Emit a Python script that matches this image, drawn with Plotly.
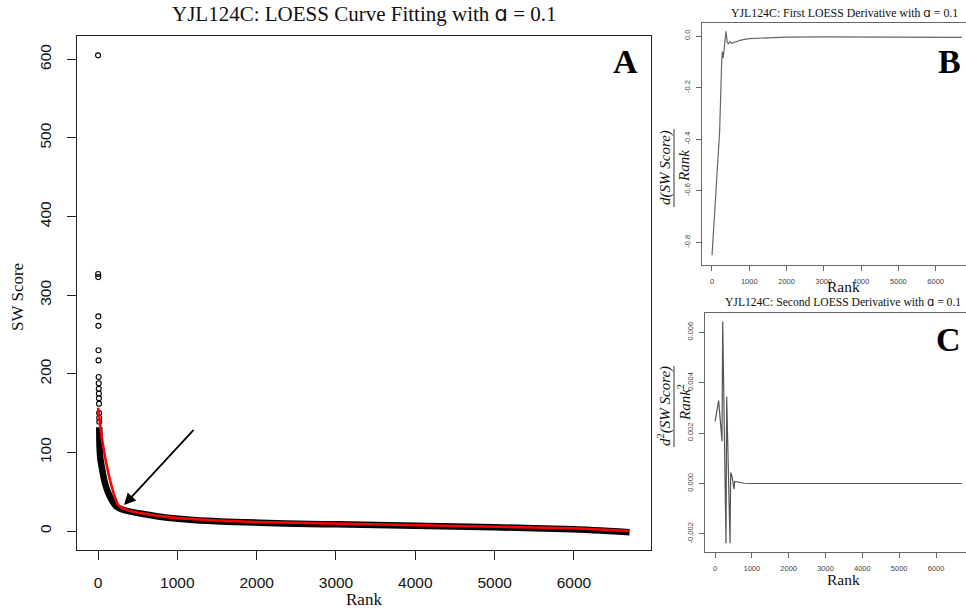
import plotly.graph_objects as go

W, H = 966, 610

# ---------------- Panel A data ----------------
outlier_rank = [1, 2, 3, 4, 5, 6, 7, 8, 9, 10, 11, 12, 13, 14, 15, 16]
outlier_score = [605, 327, 323, 273, 261, 230, 217, 196, 188, 181, 175, 169, 162, 150, 144, 139]

band_rank = [16, 20, 30, 46, 88, 151, 235, 361, 571, 782, 1201, 1622, 2042, 2672, 3000, 4000, 5000, 6000, 6700]
band_score = [132, 107, 92, 82, 60.6, 43.6, 31, 25.8, 21.6, 18.2, 14, 11.8, 10.6, 8.9, 8.6, 6.8, 4.8, 2.2, -1.5]

loess_rank = [1, 50, 100, 150, 200, 250, 300, 360, 400, 500, 700, 1000, 1500, 2000, 3000, 4000, 5000, 6000, 6700]
loess_score = [157, 117, 88, 65, 47, 33.5, 29.5, 26.7, 25.5, 23.5, 20, 16.5, 13.5, 11.5, 9.5, 7.5, 5.5, 3.5, 0]

# ---------------- Panel B data ----------------
d1_rank = [1, 100, 205, 260, 277, 300, 320, 375, 410, 440, 480, 520, 600, 800, 1000, 1500,
           2000, 3000, 4000, 5000, 6000, 6700]
d1_value = [-0.85, -0.60, -0.37, -0.10, -0.06, -0.085, -0.06, 0.018, -0.025, -0.03, -0.022,
            -0.028, -0.024, -0.015, -0.010, -0.006, -0.004, -0.003, -0.003, -0.003, -0.004, -0.005]

# ---------------- Panel C data ----------------
d2_rank = [1, 100, 190, 209, 299, 317, 408, 426, 462, 517, 535, 600, 670, 800, 1000, 2000,
           3000, 4000, 5000, 6000, 6700]
d2_value = [0.00246, 0.00329, 0.00167, 0.00643, -0.00237, 0.00345, -0.00237, 0.00044, 0.00028,
            -0.00022, 0.00008, 0.00006, 0.00004, 0.00001, 0.0, 0.0, 0.0, 0.0, 0.0, 0.0, 0.0]

# ---------------- ticks ----------------
rank_ticks = [0, 1000, 2000, 3000, 4000, 5000, 6000]
score_ticks = [0, 100, 200, 300, 400, 500, 600]
d1_ticks = [0.0, -0.2, -0.4, -0.6, -0.8]
d1_tick_text = ["0.0", "-0.2", "-0.4", "-0.6", "-0.8"]
d2_ticks = [0.006, 0.004, 0.002, 0.0, -0.002]
d2_tick_text = ["0.006", "0.004", "0.002", "0.000", "-0.002"]

SERIF = "Liberation Serif"
SANS = "Liberation Sans, Arial, sans-serif"
ALPHA = "<span style=\"font-family:'DejaVu Sans'\">ɑ</span>"


def px(x):
    return x / W


def py(y):
    return 1 - y / H


fig = go.Figure()

# Panel A
fig.add_trace(go.Scatter(x=band_rank, y=band_score, mode="lines",
                         line=dict(color="black", width=6.5, shape="spline", smoothing=0.5),
                         xaxis="x", yaxis="y", showlegend=False, hoverinfo="skip"))
fig.add_trace(go.Scatter(x=outlier_rank, y=outlier_score, mode="markers",
                         marker=dict(symbol="circle-open", size=5, color="black",
                                     line=dict(width=1.1, color="black")),
                         xaxis="x", yaxis="y", showlegend=False))
fig.add_trace(go.Scatter(x=loess_rank, y=loess_score, mode="lines",
                         line=dict(color="#ff0000", width=2.6),
                         xaxis="x", yaxis="y", showlegend=False))

# Panel B
fig.add_trace(go.Scatter(x=d1_rank, y=d1_value, mode="lines",
                         line=dict(color="#666666", width=1.2),
                         xaxis="x2", yaxis="y2", showlegend=False))
# Panel C
fig.add_trace(go.Scatter(x=d2_rank, y=d2_value, mode="lines",
                         line=dict(color="#555555", width=1.2),
                         xaxis="x3", yaxis="y3", showlegend=False))

axis_a = dict(showgrid=False, zeroline=False, showline=True, mirror=True,
              linecolor="#222", linewidth=1, ticks="outside", ticklen=9,
              tickcolor="#222", tickfont=dict(family=SANS, size=15.5, color="#111"))
axis_s = dict(showgrid=False, zeroline=False, showline=True, mirror=True,
              linecolor="#666", linewidth=1, ticks="outside", ticklen=5,
              tickcolor="#666", tickfont=dict(family=SANS, size=7.5, color="#444"))

fig.update_layout(
    width=W, height=H,
    margin=dict(l=0, r=0, t=0, b=0),
    paper_bgcolor="white", plot_bgcolor="white",
    showlegend=False,
    xaxis=dict(**axis_a, domain=[px(77), px(651)], range=[-264.7, 6971],
               tickvals=rank_ticks, ticklabelstandoff=9, anchor="y"),
    yaxis=dict(**axis_a, domain=[py(550), py(36)], range=[-24.1, 629.6],
               tickvals=score_ticks, tickangle=-90, ticklabelstandoff=10, anchor="x"),
    xaxis2=dict(**axis_s, domain=[px(702), 1], range=[-268, 6813],
                tickvals=rank_ticks, ticklabelstandoff=4, anchor="y2"),
    yaxis2=dict(**axis_s, domain=[py(265), py(22.7)], range=[-0.888, 0.0516],
                tickvals=d1_ticks, ticktext=d1_tick_text, tickangle=-90,
                ticklabelstandoff=3, anchor="x2"),
    xaxis3=dict(**axis_s, domain=[px(705), 1], range=[-271.5, 6814],
                tickvals=rank_ticks, ticklabelstandoff=4, anchor="y3"),
    yaxis3=dict(**axis_s, domain=[py(552), py(313)], range=[-0.002718, 0.006766],
                tickvals=d2_ticks, ticktext=d2_tick_text, tickangle=-90,
                ticklabelstandoff=3, anchor="x3"),
)

ann = []


def text(x, y, s, size, family=SERIF, color="#111", angle=0, xanchor="center", yanchor="middle"):
    ann.append(dict(x=px(x), y=py(y), xref="paper", yref="paper", text=s, showarrow=False,
                    font=dict(family=family, size=size, color=color), textangle=angle,
                    xanchor=xanchor, yanchor=yanchor))


# titles
text(364, 14, "YJL124C: LOESS Curve Fitting with " + ALPHA + " = 0.1", 21)
text(844, 13, "YJL124C: First LOESS Derivative with " + ALPHA + " = 0.1", 11.8)
text(843, 302, "YJL124C: Second LOESS Derivative with " + ALPHA + " = 0.1", 11.6)

# axis titles
text(364, 599, "Rank", 17)
text(18, 297, "SW Score", 17, angle=-90)
text(843, 287, "Rank", 15.5)
text(843, 579, "Rank", 15.5)

# fraction labels B
text(665, 168, "<i>d(SW Score)</i>", 15, angle=-90)
text(684, 166, "<i>Rank</i>", 15, angle=-90)
# fraction labels C
text(664, 406, "<i>d</i><sup>2</sup><i>(SW Score)</i>", 15, angle=-90)
text(684, 403, "<i>Rank</i><sup>2</sup>", 15, angle=-90)

# panel letters
text(625, 62, "<b>A</b>", 34, color="black")
text(949, 62, "<b>B</b>", 34, color="black")
text(948, 339, "<b>C</b>", 34, color="black")

# arrow in panel A
ann.append(dict(x=328, y=33, xref="x", yref="y", ax=1223, ay=130.5, axref="x", ayref="y",
                showarrow=True, arrowhead=2, arrowsize=1.3, arrowwidth=1.8, arrowcolor="black",
                text=""))

fig.update_layout(annotations=ann)

# fraction bars
fig.add_shape(type="line", xref="paper", yref="paper", x0=px(674), x1=px(674),
              y0=py(129), y1=py(207), line=dict(color="#333", width=1))
fig.add_shape(type="line", xref="paper", yref="paper", x0=px(674), x1=px(674),
              y0=py(366), y1=py(447), line=dict(color="#333", width=1))

fig.write_html("out.html",
               config={"displayModeBar": False},
               post_script="document.body.style.margin='0';document.body.style.overflow='hidden';"
                           "document.documentElement.style.overflow='hidden';")
